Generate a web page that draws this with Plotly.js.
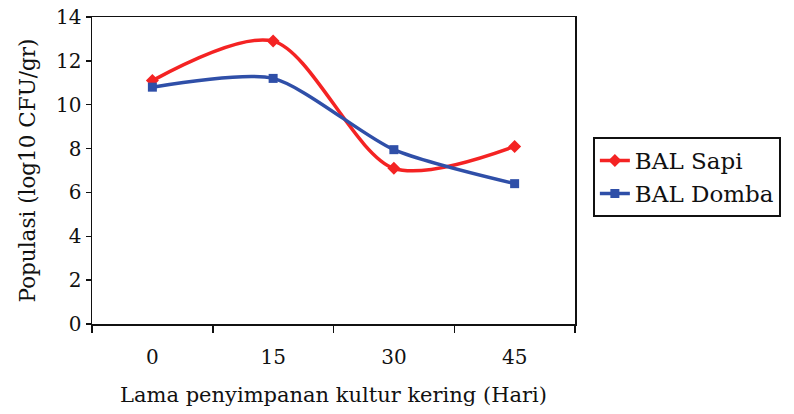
<!DOCTYPE html>
<html><head><meta charset="utf-8">
<script src="https://cdn.plot.ly/plotly-3.0.1.min.js"></script>
<style>body{margin:0;background:#fff}#c{width:794px;height:414px}</style>
</head><body><div id="c"></div>
<script>
const days = ["0", "15", "30", "45"];
const sapi = [11.1, 12.9, 7.1, 8.1];
const domba = [10.8, 11.2, 7.95, 6.4];
const yTicks = [0, 2, 4, 6, 8, 10, 12, 14];

const serif = "DejaVu Serif";
const traces = [
  {x: days, y: sapi, name: "BAL Sapi", mode: "lines+markers",
   line: {color: "#f42323", width: 3.5, shape: "spline", smoothing: 0.85},
   marker: {symbol: "diamond", size: 10, color: "#f42323"}},
  {x: days, y: domba, name: "BAL Domba", mode: "lines+markers",
   line: {color: "#2f4fa8", width: 3.5, shape: "spline", smoothing: 0.7},
   marker: {symbol: "square", size: 9, color: "#2f4fa8"}}
];
const layout = {
  width: 794, height: 414,
  margin: {l: 92, r: 219, t: 17, b: 90},
  paper_bgcolor: "#fff", plot_bgcolor: "#fff",
  font: {family: serif, size: 20, color: "#111"},
  showlegend: true,
  legend: {x: 1.037, y: 0.609, xanchor: "left", yanchor: "top",
    bordercolor: "#111", borderwidth: 2, bgcolor: "#fff",
    font: {family: serif, size: 23, color: "#111"}, tracegroupgap: 0},
  xaxis: {type: "category", range: [-0.5, 3.5], tickson: "boundaries",
    ticks: "outside", ticklen: 7, tickwidth: 1.5, tickcolor: "#111",
    showline: true, linecolor: "#111", linewidth: 1.5, mirror: true,
    showgrid: false, zeroline: false, ticklabelstandoff: 14,
    title: {text: "Lama penyimpanan kultur kering (Hari)", standoff: 20,
      font: {family: serif, size: 21, color: "#111"}}},
  yaxis: {range: [0, 14], tickvals: yTicks, ticks: "outside", ticklen: 5,
    tickwidth: 1.5, tickcolor: "#111", showline: true, linecolor: "#111",
    linewidth: 1.5, mirror: true, showgrid: false, zeroline: false,
    title: {text: "Populasi (log10 CFU/gr)", standoff: 14,
      font: {family: serif, size: 21.5, color: "#111"}}}
};
Plotly.newPlot("c", traces, layout, {displayModeBar: false, staticPlot: true});
</script></body></html>
